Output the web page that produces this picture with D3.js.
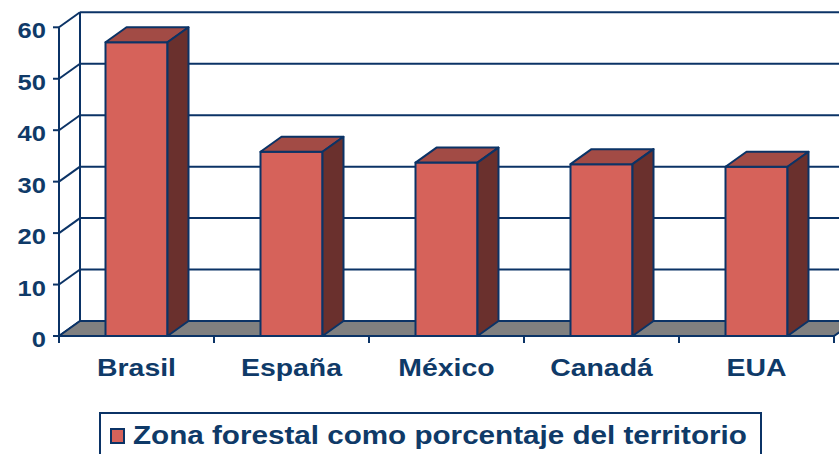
<!DOCTYPE html>
<html>
<head>
<meta charset="utf-8">
<script src="https://cdnjs.cloudflare.com/ajax/libs/d3/7.8.5/d3.min.js"></script>
<style>
  html, body { margin: 0; padding: 0; background: #ffffff; }
  text { font-family: "Liberation Sans", Arial, sans-serif; font-weight: bold; fill: #0f3a68; }
</style>
</head>
<body>
<div id="chart"></div>
<script>
const categories = ["Brasil", "España", "México", "Canadá", "EUA"];
const values = [57.1, 35.8, 33.7, 33.4, 32.9];
const yTicks = [0, 10, 20, 30, 40, 50, 60];
const seriesName = "Zona forestal como porcentaje del territorio";

const WIDTH = 839, HEIGHT = 454;
const DX = 21, DY = -15;          // profundidad 3D
const NAVY = "#0b3366";
const FRONT = "#d6625a", TOP = "#a24b45", SIDE = "#6a302d", FLOOR = "#808080";
const SX = 1.16;                  // texto algo ancho

const svg = d3.select("#chart").append("svg")
  .attr("width", WIDTH).attr("height", HEIGHT);

const x = d3.scaleBand().domain(categories).range([59, 834]).padding(0);
const y = d3.scaleLinear().domain([0, 60]).range([336, 27.3]);
const barW = x.bandwidth() * 0.4;

function poly(pts) { return "M" + pts.map(p => p.join(",")).join("L") + "Z"; }

const x0 = x.range()[0], x1 = x.range()[1];

// pared del fondo: lineas de cuadricula
svg.append("g").selectAll("line.grid")
  .data(yTicks)
  .enter().append("line")
  .attr("x1", x0 + DX).attr("x2", x1 + DX + 10)
  .attr("y1", d => y(d) + DY).attr("y2", d => y(d) + DY)
  .attr("stroke", NAVY).attr("stroke-width", 2);

// pared izquierda: diagonales
svg.append("g").selectAll("line.diag")
  .data(yTicks)
  .enter().append("line")
  .attr("x1", x0).attr("y1", d => y(d))
  .attr("x2", x0 + DX).attr("y2", d => y(d) + DY)
  .attr("stroke", NAVY).attr("stroke-width", 2);

svg.append("line")
  .attr("x1", x0 + DX).attr("x2", x0 + DX)
  .attr("y1", y(60) + DY).attr("y2", y(0) + DY)
  .attr("stroke", NAVY).attr("stroke-width", 2);

// piso
svg.append("path")
  .attr("d", poly([[x0, y(0)], [x1, y(0)], [x1 + DX, y(0) + DY], [x0 + DX, y(0) + DY]]))
  .attr("fill", FLOOR).attr("stroke", NAVY).attr("stroke-width", 2)
  .attr("stroke-linejoin", "round");

// eje y
svg.append("line")
  .attr("x1", x0).attr("x2", x0)
  .attr("y1", y(60)).attr("y2", y(0) + 7)
  .attr("stroke", NAVY).attr("stroke-width", 2);

svg.append("g").selectAll("line.ytick")
  .data(yTicks)
  .enter().append("line")
  .attr("x1", x0 - 6).attr("x2", x0)
  .attr("y1", d => y(d)).attr("y2", d => y(d))
  .attr("stroke", NAVY).attr("stroke-width", 2);

svg.append("g").selectAll("text.ylab")
  .data(yTicks)
  .enter().append("text")
  .attr("transform", d => "translate(46," + (y(d) + 11) + ") scale(" + SX + ",1)")
  .attr("text-anchor", "end")
  .style("font-size", "22px")
  .text(d => d);

// eje x
svg.append("line")
  .attr("x1", x0).attr("x2", x1)
  .attr("y1", y(0)).attr("y2", y(0))
  .attr("stroke", NAVY).attr("stroke-width", 2);

svg.append("g").selectAll("line.xtick")
  .data(categories)
  .enter().append("line")
  .attr("x1", d => x(d) + x.bandwidth()).attr("x2", d => x(d) + x.bandwidth())
  .attr("y1", y(0)).attr("y2", y(0) + 7)
  .attr("stroke", NAVY).attr("stroke-width", 2);

svg.append("g").selectAll("text.xlab")
  .data(categories)
  .enter().append("text")
  .attr("transform", d => "translate(" + (x(d) + x.bandwidth() / 2) + ",376) scale(" + SX + ",1)")
  .attr("text-anchor", "middle")
  .style("font-size", "24.5px")
  .text(d => d);

// barras
const bars = svg.append("g").selectAll("g.bar")
  .data(categories.map((c, i) => ({ c: c, v: values[i] })))
  .enter().append("g").attr("class", "bar");

function bx(d) { return x(d.c) + (x.bandwidth() - barW) / 2; }

bars.append("path")
  .attr("d", d => {
    const l = bx(d), r = l + barW, t = y(d.v), b = y(0);
    return poly([[l, t], [r, t], [r, b], [l, b]]);
  })
  .attr("fill", FRONT);

bars.append("path")
  .attr("d", d => {
    const l = bx(d), r = l + barW, t = y(d.v);
    return poly([[l, t], [r, t], [r + DX, t + DY], [l + DX, t + DY]]);
  })
  .attr("fill", TOP);

bars.append("path")
  .attr("d", d => {
    const r = bx(d) + barW, t = y(d.v), b = y(0);
    return poly([[r, t], [r + DX, t + DY], [r + DX, b + DY], [r, b]]);
  })
  .attr("fill", SIDE);

bars.selectAll("path")
  .attr("stroke", NAVY).attr("stroke-width", 2)
  .attr("stroke-linejoin", "round");

// leyenda
const legend = svg.append("g");
legend.append("rect")
  .attr("x", 100).attr("y", 413).attr("width", 661).attr("height", 60)
  .attr("fill", "#ffffff").attr("stroke", NAVY).attr("stroke-width", 2);
legend.append("rect")
  .attr("x", 111).attr("y", 429).attr("width", 13).attr("height", 14)
  .attr("fill", FRONT).attr("stroke", NAVY).attr("stroke-width", 2);
legend.append("text")
  .attr("transform", "translate(133,444) scale(1.14,1)")
  .style("font-size", "26px")
  .text(seriesName);
</script>
</body>
</html>
